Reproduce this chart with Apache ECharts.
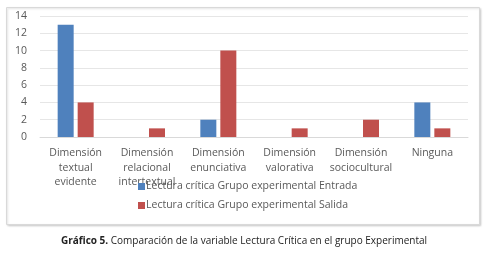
<!DOCTYPE html>
<html>
<head>
<meta charset="utf-8">
<script src="https://cdn.jsdelivr.net/npm/echarts@6/dist/echarts.min.js"></script>
<style>
  html, body { margin: 0; padding: 0; background: #fff; }
  #main { width: 488px; height: 258px; }
</style>
</head>
<body>
<div id="main"></div>
<script>
const categories = [
  'Dimensión\ntextual\nevidente',
  'Dimensión\nrelacional\nintertextual',
  'Dimensión\nenunciativa',
  'Dimensión\nvalorativa',
  'Dimensión\nsociocultural',
  'Ninguna',
];
const entrada = [13, 0, 2, 0, 0, 4];
const salida = [4, 1, 10, 1, 2, 1];
const seriesNames = [
  'Lectura crítica Grupo experimental Entrada',
  'Lectura crítica Grupo experimental Salida',
];
const caption = 'Comparación de la variable Lectura Crítica en el grupo Experimental';

const chart = echarts.init(document.getElementById('main'));
const font = '"Open Sans", "Noto Sans", sans-serif';

chart.setOption({
  animation: false,
  textStyle: { fontFamily: font },
  graphic: [
    {
      type: 'rect',
      z: -10,
      shape: { x: 6.5, y: 7.5, width: 473, height: 217 },
      style: { fill: '#fff', stroke: '#d9d9d9', lineWidth: 1, shadowBlur: 2, shadowColor: 'rgba(0,0,0,0.15)', shadowOffsetX: 1, shadowOffsetY: 1 },
    },
    {
      type: 'text',
      left: 'center',
      top: 236,
      style: {
        text: '{b|Gráfico 5.} ' + caption,
        fontSize: 10,
        fontFamily: font,
        fill: '#222',
        rich: { b: { fontWeight: 'bold', fontSize: 10, fontFamily: font, fill: '#222' } },
      },
    },
  ],
  color: ['#4F81BD', '#C0504D'],
  legend: {
    orient: 'vertical',
    left: 133,
    top: 176,
    itemWidth: 7,
    itemHeight: 7,
    itemGap: 8,
    icon: 'rect',
    textStyle: { fontSize: 10.5, color: '#595959', fontFamily: font, padding: [0, 0, 0, -4] },
  },
  grid: { left: 40, right: 20, top: 16, bottom: 121 },
  xAxis: {
    type: 'category',
    data: categories,
    axisLine: { lineStyle: { color: '#d9d9d9' } },
    axisTick: { show: false },
    axisLabel: { color: '#595959', fontSize: 10.5, lineHeight: 14.5, margin: 9, interval: 0 },
  },
  yAxis: {
    type: 'value',
    min: 0,
    max: 14,
    interval: 2,
    axisLabel: { color: '#595959', fontSize: 10.5, margin: 13 },
    splitLine: { lineStyle: { color: '#e6e6e6' } },
  },
  series: [
    { name: seriesNames[0], type: 'bar', data: entrada, barWidth: 16, barGap: '25%' },
    { name: seriesNames[1], type: 'bar', data: salida, barWidth: 16, barGap: '25%' },
  ],
});
</script>
</body>
</html>
